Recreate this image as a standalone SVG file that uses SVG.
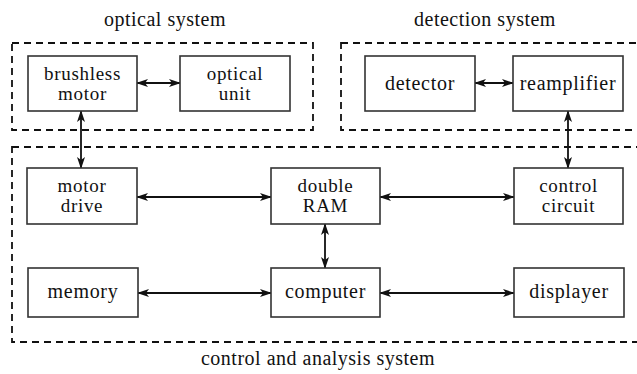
<svg xmlns="http://www.w3.org/2000/svg" width="637" height="374" viewBox="0 0 637 374">
<style>
.grp{fill:none;stroke:#111;stroke-width:1.8;stroke-dasharray:7,5}
.box{fill:#fff;stroke:#333;stroke-width:1.6}
.c{fill:none;stroke:#111;stroke-width:1.8;marker-start:url(#a);marker-end:url(#a)}
</style>
<defs>
<marker id="a" viewBox="0 0 12 8" refX="11" refY="4" markerWidth="12" markerHeight="8" markerUnits="userSpaceOnUse" orient="auto-start-reverse">
<path d="M0,0 L12,4 L0,8 L3,4 z" fill="#111"/>
</marker>
</defs>
<g id="groups" font-family="Liberation Serif" font-size="20" letter-spacing="0.5" fill="#111" text-anchor="middle">
<rect class="grp" x="12" y="43" width="301" height="87"/>
<rect class="grp" x="341" y="43" width="300" height="87"/>
<rect class="grp" x="12" y="147" width="630" height="195"/>
<text x="165" y="26" font-family="Liberation Serif">optical system</text>
<text x="485" y="26" font-family="Liberation Serif">detection system</text>
<text x="318" y="365" font-family="Liberation Serif">control and analysis system</text>
</g>
<g id="connectors">
<line class="c" x1="137" y1="83" x2="180" y2="83"/>
<line class="c" x1="475" y1="83" x2="513" y2="83"/>
<line class="c" x1="81" y1="111" x2="81" y2="168"/>
<line class="c" x1="568" y1="111" x2="568" y2="168"/>
<line class="c" x1="137" y1="197" x2="271" y2="197"/>
<line class="c" x1="380" y1="197" x2="514" y2="197"/>
<line class="c" x1="325" y1="224" x2="325" y2="268"/>
<line class="c" x1="138" y1="293" x2="271" y2="293"/>
<line class="c" x1="380" y1="293" x2="514" y2="293"/>
</g>
<g id="nodes" font-family="Liberation Serif" font-size="19" letter-spacing="0.7" fill="#111" text-anchor="middle">
<g id="brushless-motor"><rect class="box" x="28" y="56" width="109" height="55"/><text x="82.5" y="80" font-family="Liberation Serif">brushless</text><text x="82.5" y="100" font-family="Liberation Serif">motor</text></g>
<g id="optical-unit"><rect class="box" x="180" y="56" width="110" height="55"/><text x="235" y="80" font-family="Liberation Serif">optical</text><text x="235" y="100" font-family="Liberation Serif">unit</text></g>
<g id="detector"><rect class="box" x="365" y="56" width="110" height="55"/><text x="420" y="90" font-family="Liberation Serif" font-size="20">detector</text></g>
<g id="reamplifier"><rect class="box" x="513" y="56" width="110" height="55"/><text x="568" y="90" font-family="Liberation Serif" font-size="20">reamplifier</text></g>
<g id="motor-drive"><rect class="box" x="27" y="168" width="110" height="56"/><text x="82" y="192" font-family="Liberation Serif">motor</text><text x="82" y="212" font-family="Liberation Serif">drive</text></g>
<g id="double-ram"><rect class="box" x="271" y="168" width="109" height="56"/><text x="325.5" y="192" font-family="Liberation Serif">double</text><text x="325.5" y="212" font-family="Liberation Serif">RAM</text></g>
<g id="control-circuit"><rect class="box" x="514" y="168" width="109" height="56"/><text x="568.5" y="192" font-family="Liberation Serif">control</text><text x="568.5" y="212" font-family="Liberation Serif">circuit</text></g>
<g id="memory"><rect class="box" x="28" y="268" width="110" height="49"/><text x="83" y="298" font-family="Liberation Serif" font-size="20">memory</text></g>
<g id="computer"><rect class="box" x="271" y="268" width="109" height="49"/><text x="325.5" y="298" font-family="Liberation Serif" font-size="20">computer</text></g>
<g id="displayer"><rect class="box" x="514" y="268" width="110" height="49"/><text x="569" y="298" font-family="Liberation Serif" font-size="20">displayer</text></g>
</g>
</svg>
